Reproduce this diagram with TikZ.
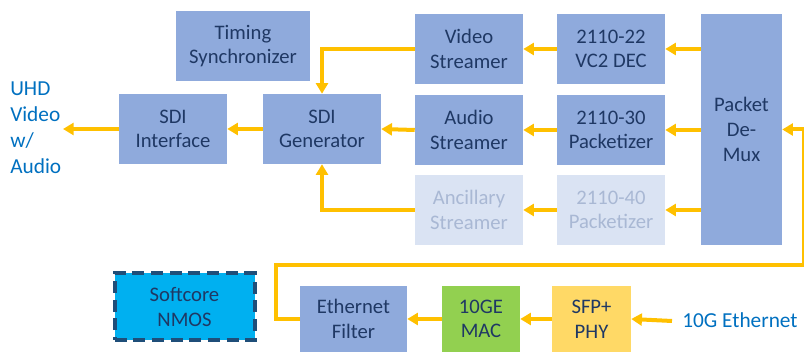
\documentclass[tikz,border=0pt]{standalone}
\usepackage{fontspec}
\setmainfont{Carlito}
\usetikzlibrary{arrows.meta}
\definecolor{boxblue}{HTML}{8FAADC}
\definecolor{boxtext}{HTML}{1F3864}
\definecolor{fadefill}{HTML}{DAE3F3}
\definecolor{fadetext}{HTML}{A9B8D4}
\definecolor{flow}{HTML}{FFC000}
\definecolor{cyanfill}{HTML}{00B0F0}
\definecolor{dashborder}{HTML}{1F4E79}
\definecolor{macgreen}{HTML}{92D050}
\definecolor{phyyellow}{HTML}{FFD966}
\definecolor{labelblue}{HTML}{0070C0}
\tikzset{
  blk/.style={fill=boxblue, text=boxtext, draw=none, align=center,
    font=\fontsize{15.5}{18.5}\selectfont, inner sep=0pt},
  fadeblk/.style={blk, fill=fadefill, text=fadetext},
  flowline/.style={draw=flow, line width=3pt},
  flowarrow/.style={flowline, -{Triangle[length=8pt,width=9pt]}},
  outlabel/.style={text=labelblue, font=\fontsize{16}{19.5}\selectfont, inner sep=0pt, align=left}
}
\begin{document}
\begin{tikzpicture}[x=0.75pt,y=-0.75pt]
\useasboundingbox (0,0) rectangle (804,352);
% top area
\node[blk, minimum width=134*0.75pt, minimum height=70*0.75pt] (tim) at (243,46) {Timing\\Synchronizer};
\node[blk, minimum width=108*0.75pt, minimum height=70*0.75pt] (sdiif) at (173,129) {SDI\\Interface};
\node[blk, minimum width=118*0.75pt, minimum height=70*0.75pt] (gen) at (322,129) {SDI\\Generator};
\node[blk, minimum width=108*0.75pt, minimum height=70*0.75pt] (vid) at (469,49) {Video\\Streamer};
\node[blk, minimum width=108*0.75pt, minimum height=70*0.75pt] (vc2) at (611,49) {2110-22\\VC2 DEC};
\node[blk, minimum width=108*0.75pt, minimum height=70*0.75pt] (aud) at (469,130) {Audio\\Streamer};
\node[blk, minimum width=108*0.75pt, minimum height=70*0.75pt] (p30) at (611,130) {2110-30\\Packetizer};
\node[fadeblk, minimum width=108*0.75pt, minimum height=70*0.75pt] (anc) at (469,210) {Ancillary\\Streamer};
\node[fadeblk, minimum width=108*0.75pt, minimum height=70*0.75pt] (p40) at (611,210) {2110-40\\Packetizer};
\node[blk, minimum width=81*0.75pt, minimum height=231*0.75pt] (dmx) at (741.5,129.5) {Packet\\De-\\Mux};
\node[outlabel, anchor=north west] (uhd) at (10,82) {UHD\\Video\\w/\\Audio};
\coordinate (uhdout) at (63,129);
% bottom area
\node[blk, fill=cyanfill, draw=dashborder, line width=3pt, dash pattern=on 9pt off 5pt,
  minimum width=140*0.75pt, minimum height=67*0.75pt] (nmos) at (184.5,307) {Softcore\\NMOS};
\node[blk, minimum width=107*0.75pt, minimum height=66*0.75pt] (filt) at (353.5,319) {Ethernet\\Filter};
\node[blk, fill=macgreen, minimum width=78*0.75pt, minimum height=66*0.75pt] (mac) at (481,319) {10GE\\MAC};
\node[blk, fill=phyyellow, minimum width=79*0.75pt, minimum height=66*0.75pt] (sfp) at (591.5,319) {SFP+\\PHY};
\node[outlabel, anchor=west] (eth) at (682,320) {10G Ethernet};
\coordinate (ethin) at (672,321);
\coordinate (c1) at (276,265);
\coordinate (c2) at (804,265);
% connectors
\draw[flowarrow] (dmx.west |- vc2.east) -- (vc2.east);
\draw[flowarrow] (dmx.west |- p30.east) -- (p30.east);
\draw[flowarrow] (dmx.west |- p40.east) -- (p40.east);
\draw[flowarrow] (vc2.west) -- (vid.east);
\draw[flowarrow] (p30.west) -- (aud.east);
\draw[flowarrow] (p40.west) -- (anc.east);
\draw[flowarrow] (aud.west) -- (gen.east);
\draw[flowarrow] (vid.west) -- (gen.north |- vid.west) -- (gen.north);
\draw[flowarrow] (anc.west) -- (gen.south |- anc.west) -- (gen.south);
\draw[flowarrow] (gen.west) -- (sdiif.east);
\draw[flowarrow] (sdiif.west) -- (uhdout);
\draw[flowarrow] (ethin) -- (sfp.east);
\draw[flowarrow] (sfp.west) -- (mac.east);
\draw[flowarrow] (mac.west) -- (filt.east);
\draw[flowarrow] (filt.west) -| (c1) -- (c2) |- (dmx.east);
\end{tikzpicture}
\end{document}
